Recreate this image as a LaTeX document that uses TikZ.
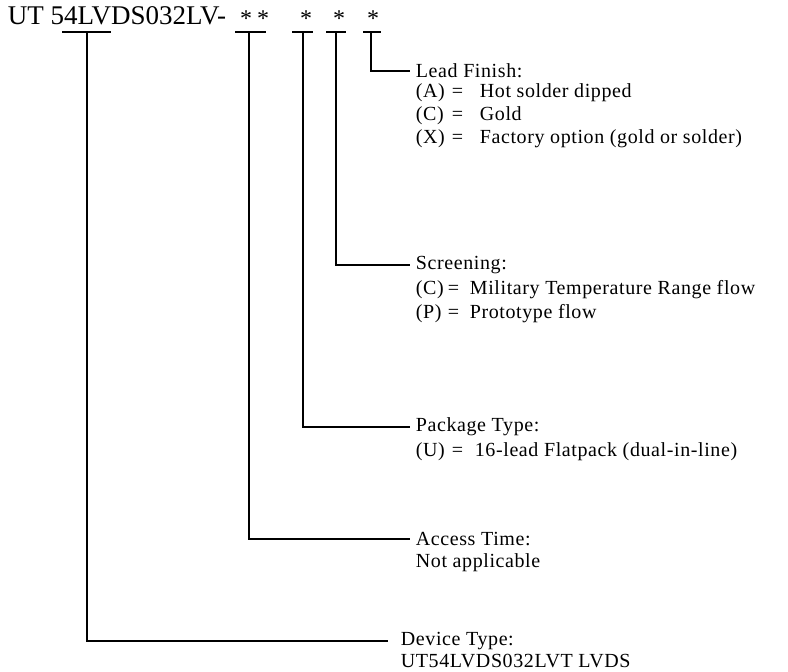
\documentclass[tikz,border=0pt]{standalone}
\usepackage{fontspec}
\setmainfont{Liberation Serif}
\newfontfamily\lblfont[LetterSpace=3]{Liberation Serif}
\begin{document}
\begin{tikzpicture}[x=1pt,y=-1pt, line width=1.8pt,
  hdr/.style={font=\fontsize{27}{31}\selectfont, inner sep=0pt},
  starmark/.style={font=\fontsize{24}{28}\selectfont, inner sep=0pt, anchor=base},
  ttl/.style={font=\lblfont\fontsize{20}{24}\selectfont, anchor=west, inner xsep=5pt, inner ysep=0pt},
  row/.style={font=\lblfont\fontsize{20}{24}\selectfont, anchor=west, inner xsep=0pt, inner ysep=0pt}
]
\useasboundingbox (0,0) rectangle (788,672);
% header
\node[hdr, anchor=base west] (title) at (7,24) {UT 54LVDS032LV-};
\node[starmark] (s1) at (246,26) {*};
\node[starmark] (s2) at (263,26) {*};
\node[starmark] (s3) at (306,26) {*};
\node[starmark] (s4) at (339,26) {*};
\node[starmark] (s5) at (373,26) {*};
% underline coordinates
\coordinate (u1a) at (62,32);  \coordinate (u1b) at (111,32); \coordinate (u1m) at (87,32);
\coordinate (u2a) at (235,32); \coordinate (u2b) at (266,32); \coordinate (u2m) at (249,32);
\coordinate (u3a) at (292,32); \coordinate (u3b) at (313,32); \coordinate (u3m) at (303,32);
\coordinate (u4a) at (326,32); \coordinate (u4b) at (346,32); \coordinate (u4m) at (336,32);
\coordinate (u5a) at (363,32); \coordinate (u5b) at (381,32); \coordinate (u5m) at (371,32);
% labels
\node[ttl] (leadf) at (410,71) {Lead Finish:};
\node[row] (leadA) at (415,93) {\makebox[36pt][l]{(A)}\makebox[28pt][l]{=}Hot solder dipped};
\node[row] (leadC) at (415,116) {\makebox[36pt][l]{(C)}\makebox[28pt][l]{=}Gold};
\node[row] (leadX) at (415,139) {\makebox[36pt][l]{(X)}\makebox[28pt][l]{=}Factory option (gold or solder)};
\node[ttl] (scr) at (410,265) {Screening:};
\node[row] (scrC) at (415,290) {\makebox[32pt][l]{(C)}\makebox[22pt][l]{=}Military Temperature Range flow};
\node[row] (scrP) at (415,314) {\makebox[32pt][l]{(P)}\makebox[22pt][l]{=}Prototype flow};
\node[ttl] (pkg) at (410,427) {Package Type:};
\node[row] (pkgU) at (415,452) {\makebox[36pt][l]{(U)}\makebox[23pt][l]{=}16-lead Flatpack (dual-in-line)};
\node[ttl] (acc) at (410,539) {Access Time:};
\node[row] (accN) at (415,563) {Not applicable};
\node[ttl, inner xsep=12pt] (dev) at (388,641) {Device Type:};
\node[row] (devT) at (400,661) {UT54LVDS032LVT LVDS};
% connectors
\draw (u1a) -- (u1b); \draw (u1m) |- (dev.west);
\draw (u2a) -- (u2b); \draw (u2m) |- (acc.west);
\draw (u3a) -- (u3b); \draw (u3m) |- (pkg.west);
\draw (u4a) -- (u4b); \draw (u4m) |- (scr.west);
\draw (u5a) -- (u5b); \draw (u5m) |- (leadf.west);
\end{tikzpicture}
\end{document}
